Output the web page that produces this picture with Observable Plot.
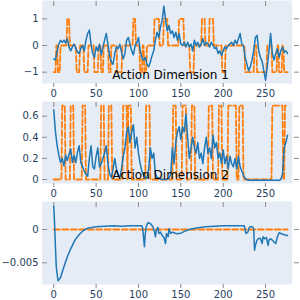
<!DOCTYPE html>
<html><head><meta charset="utf-8">
<script src="https://cdn.jsdelivr.net/npm/d3@7"></script>
<script src="https://cdn.jsdelivr.net/npm/@observablehq/plot@0.6"></script>
<style>
body{margin:0;background:#fff}
#chart{position:relative;width:300px;height:300px;overflow:hidden}
#chart svg{position:absolute;left:0;overflow:visible}
</style>
</head><body><div id="chart"></div>
<script>
const N = 277;
const xTicks = [0, 50, 100, 150, 200, 250];
const titles = ["Action Dimension 1", "Action Dimension 2"];

// Panel 1
const y1Ticks = [-1, 0, 1];
const y1Labels = ["\u22121", "0", "1"];
const blue1X = [0,2,4,6,8,10,12,14,16,18,20,22,24,26,28,30,32,34,36,38,40,42,44,46,48,50,52,54,56,58,60,62,64,66,68,70,72,74,76,78,80,82,84,86,88,90,92,94,96,98,100,102,104,106,108,110,112,114,116,118,120,122,124,126,128,130,132,134,136,138,140,142,144,146,148,150,152,154,156,158,160,162,164,166,168,170,172,174,176,178,180,182,184,186,188,190,192,194,196,198,200,202,204,206,208,210,212,214,216,218,220,222,224,226,228,230,232,234,236,238,240,242,244,246,248,250,252,254,256,258,260,262,264,266,268,270,272,274,276];
const blue1Y = [-0.5,-0.54,-0.2,0.06,0.19,0.12,0.2,0.09,0.25,-0.06,-0.2,-0.05,0.05,-0.1,-0.25,-0.3,-0.1,0,-0.2,0.2,0.45,0.58,0.05,-0.3,-0.45,-0.05,-0.2,0.05,-0.35,-0.05,0.2,0.45,0.05,-0.4,-0.62,-0.7,-0.3,-0.05,-0.12,0.05,-0.25,-0.5,-0.3,0.2,0.3,0.05,-0.2,-0.35,0,0.1,0.3,-0.2,-0.45,-0.55,-0.45,-0.7,-0.8,-0.62,-0.38,-0.2,0.2,0.5,0.3,0.7,0.95,1.48,0.95,0.55,0.75,0.45,0.55,0.3,0.5,0.2,0.45,0.05,0,0.12,-0.06,0.12,-0.05,0.05,-0.2,0.2,0,0.12,-0.06,0.06,0.25,0,0.12,0.06,-0.06,0.12,0,-0.12,-0.06,-0.3,-0.2,-0.37,-0.2,-0.05,-0.12,0,0.06,0.12,0,0.2,0.06,0.25,0.45,0.05,0,-0.45,-0.7,-0.95,-0.8,-0.55,-0.2,0.3,0.38,-0.2,-0.45,-0.6,-0.95,-1.3,-0.8,-0.2,0.45,-0.3,-0.55,-0.3,-0.12,-0.45,-0.2,-0.06,-0.25,-0.2,-0.3];
const orange1Starts = [0,3,5,8,16,19,27,31,36,41,48,53,56,59,65,68,75,81,94,97,102,105,107,110,119,125,130,135,148,154,161,166,175,179,184,189,199,203,226,237,240,252,258,264,266,270,272];
const orange1Levels = [-1,0,-1,0,1,0,-1,0,-1,0,-1,0,-1,0,-1,0,-1,0,1,0,-1,0,-1,0,1,0,1,0,1,0,-1,0,1,0,1,0,-1,0,-1,0,-1,0,-1,0,-1,0,-1];

// Panel 2
const y2Ticks = [0, 0.2, 0.4, 0.6];
const y2Labels = ["0", "0.2", "0.4", "0.6"];
const blue2X = blue1X;
const blue2Y = [0.66,0.45,0.32,0.23,0.16,0.2,0.13,0.23,0.18,0.24,0.29,0.16,0.23,0.16,0.26,0.32,0.16,0.12,0.08,0.05,0.03,0.2,0.32,0.12,0.1,0.22,0.3,0.12,0.15,0.2,0.25,0.32,0.15,0.05,0.02,0.1,0.2,0.1,0.04,0.02,0.1,0.22,0.3,0.45,0.5,0.35,0.45,0.52,0.3,0.4,0.25,0.15,0.08,0.04,0.02,0.01,0.1,0.3,0.2,0.25,0.05,0.02,0.01,0.005,0,0,0,0.005,0.01,0.05,0.3,0.15,0.35,0.45,0.5,0.38,0.5,0.45,0.62,0.4,0.2,0.3,0.4,0.3,0.25,0.35,0.2,0.25,0.15,0.3,0.4,0.25,0.3,0.2,0.42,0.3,0.35,0.2,0.25,0.15,0.28,0.15,0.22,0.1,0.22,0.15,0.12,0.2,0.1,0.22,0.12,0.08,0.04,0.01,0,-0.008,-0.008,-0.008,-0.008,-0.008,-0.008,-0.008,-0.008,-0.008,-0.008,-0.008,-0.008,-0.008,-0.008,-0.008,-0.008,-0.008,-0.008,-0.008,0,0.05,0.3,0.35,0.42];
const orange2Starts = [0,10,14,20,24,34,38,56,60,65,69,82,87,88,92,109,114,141,145,152,157,163,167,183,188,195,199,206,216,219,224,258,271,273];
const orange2Levels = [0,0.7,0,0.7,0,0.7,0,0.7,0,0.7,0,0.7,0,0.7,0,0.7,0,0.7,0,0.7,0,0.7,0,0.7,0,0.7,0,0.7,0,0.7,0,0.7,0,0.7];

// Panel 3
const y3Ticks = [-0.005, 0];
const y3Labels = ["\u22120.005", "0"];
const blue3X = [0,1,2,3,5,8,12,16,20,25,30,35,40,50,60,70,80,90,100,104,105,106,107,108,109,111,114,117,119,120,121,123,124,126,128,130,132,133,135,136,138,140,145,150,155,160,170,180,190,200,210,220,225,226,227,229,231,233,235,236,237,238,240,242,244,246,247,249,251,253,254,256,258,260,262,264,266,268,272,276];
const blue3Y = [0.0035,0.0008,-0.0027,-0.0057,-0.0077,-0.0072,-0.0056,-0.0041,-0.0029,-0.0016,-0.00075,-0.00015,0.0002,0.0004,0.0005,0.00055,0.0005,0.00055,0.00055,0.00055,0.0001,-0.0012,-0.0026,-0.0007,0.00035,0.001,0.0009,0.0004,-0.0004,-0.0011,-0.00015,0.0003,-0.0006,-0.0004,-0.0009,-0.0012,-0.0021,-0.0006,-0.0011,0.0001,-0.0006,-0.0004,-0.00065,-0.00055,-0.00025,0,0.00025,0.0004,0.0005,0.00055,0.00055,0.00055,0.00055,-0.00015,-0.0006,-0.0004,0.00035,0.00045,0.00035,0.0001,-0.0031,-0.0024,-0.0016,-0.0013,-0.0014,-0.0021,-0.0011,-0.0014,-0.0012,-0.0024,-0.0016,-0.0014,-0.0016,-0.0019,-0.0021,-0.0011,-0.0005,-0.0006,-0.0008,-0.0009];
const orange3Starts = [0];
const orange3Levels = [0];

function runs(starts, levels) {
  const out = [];
  for (let k = 0; k < starts.length; k++) {
    const end = k + 1 < starts.length ? starts[k + 1] : N;
    for (let i = starts[k]; i < end; i++) out.push({x: i, y: levels[k]});
  }
  return out;
}
const pts = (xs, ys) => xs.map((x, i) => ({x, y: ys[i]}));

const TICK = "#8a8a8a", LAB = "#2a3f5f";
function panel({top, height, mt, mb, yDomain, yTicks, yLabels, blue, orange, title}) {
  const fmt = d => yLabels[yTicks.indexOf(d)];
  const marks = [
    Plot.frame({fill: "#e5ecf6", stroke: null, insetLeft: -5.3, insetTop: -5, insetRight: 1.3}),
    Plot.axisX({anchor: "bottom", ticks: xTicks, tickSize: 4, tickPadding: 2, stroke: TICK, fill: LAB, label: null}),
    Plot.axisX({anchor: "top", ticks: xTicks, tickSize: 5, stroke: TICK, fill: "none", label: null}),
    Plot.axisY({anchor: "left", ticks: yTicks, tickSize: 5, tickPadding: 4, stroke: TICK, fill: LAB, label: null, tickFormat: fmt}),
    Plot.axisY({anchor: "right", ticks: yTicks, tickSize: 5, stroke: TICK, fill: "none", label: null}),
    Plot.line(orange, {x: "x", y: "y", stroke: "#ff7f0e", strokeWidth: 1.8, strokeDasharray: "6,2.5"}),
    Plot.line(blue, {x: "x", y: "y", stroke: "#1f77b4", strokeWidth: 1.5})
  ];
  if (title) marks.push(Plot.text([title], {frameAnchor: "bottom", dy: -8.5, text: d => d, fontSize: 12, fill: "black", lineAnchor: "middle"}));
  const svg = Plot.plot({
    width: 300, height, marginLeft: 47, marginRight: 7, marginTop: mt, marginBottom: mb,
    x: {domain: [-7.4, 283]},
    y: {domain: yDomain},
    style: {fontFamily: "DejaVu Sans", fontSize: "10px", background: "transparent", overflow: "visible"},
    marks
  });
  svg.style.top = top + "px";
  document.getElementById("chart").appendChild(svg);
}

panel({top: 0, height: 100, mt: 5, mb: 17, yDomain: [-1.425, 1.5], yTicks: y1Ticks, yLabels: y1Labels,
  blue: pts(blue1X, blue1Y), orange: runs(orange1Starts, orange1Levels), title: titles[0]});
panel({top: 100, height: 100, mt: 6, mb: 17, yDomain: [-0.038, 0.692], yTicks: y2Ticks, yLabels: y2Labels,
  blue: pts(blue2X, blue2Y), orange: runs(orange2Starts, orange2Levels), title: titles[1]});
panel({top: 200, height: 100, mt: 6, mb: 16, yDomain: [-0.00826, 0.00345], yTicks: y3Ticks, yLabels: y3Labels,
  blue: pts(blue3X, blue3Y), orange: runs(orange3Starts, orange3Levels), title: null});
</script></body></html>
